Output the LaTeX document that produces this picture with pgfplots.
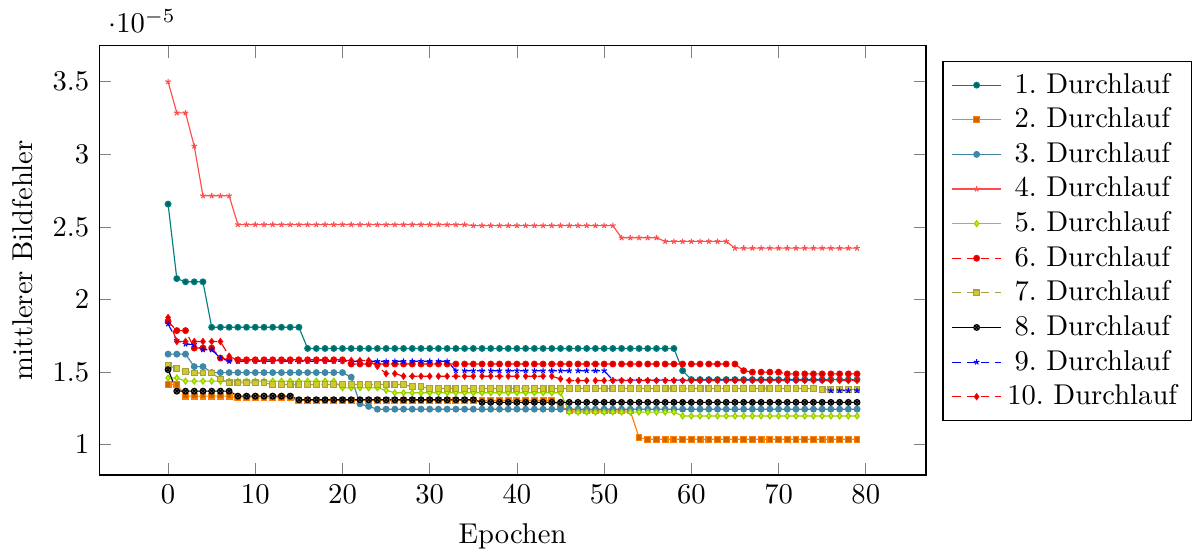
\documentclass[border=0pt]{standalone}
\usepackage{pgfplots}
\usepackage{pgfplotstable}
\pgfplotsset{compat=1.18}
\pgfplotstableread{
e s1 s2 s3 s4 s5 s6 s7 s8 s9 s10
0 2.657 1.415 1.624 3.50 1.46 1.85 1.545 1.517 1.832 1.876
1 2.144 1.415 1.624 3.285 1.46 1.786 1.524 1.369 1.718 1.711
2 2.122 1.335 1.624 3.285 1.438 1.786 1.503 1.369 1.693 1.711
3 2.122 1.335 1.538 3.056 1.438 1.666 1.494 1.369 1.69 1.711
4 2.122 1.335 1.538 2.714 1.438 1.666 1.494 1.369 1.654 1.711
5 1.809 1.335 1.497 2.714 1.438 1.666 1.494 1.369 1.654 1.711
6 1.809 1.335 1.497 2.714 1.438 1.597 1.453 1.369 1.597 1.711
7 1.809 1.335 1.497 2.714 1.438 1.585 1.426 1.369 1.575 1.61
8 1.809 1.323 1.497 2.516 1.438 1.585 1.426 1.335 1.575 1.58
9 1.809 1.323 1.497 2.516 1.438 1.585 1.426 1.335 1.575 1.58
10 1.809 1.323 1.497 2.516 1.438 1.585 1.426 1.335 1.575 1.58
11 1.809 1.323 1.497 2.516 1.438 1.585 1.426 1.335 1.575 1.58
12 1.809 1.323 1.497 2.516 1.438 1.585 1.415 1.335 1.575 1.58
13 1.809 1.323 1.497 2.516 1.438 1.585 1.415 1.335 1.575 1.58
14 1.809 1.323 1.497 2.516 1.438 1.585 1.415 1.335 1.575 1.58
15 1.809 1.305 1.497 2.516 1.438 1.585 1.415 1.31 1.575 1.58
16 1.663 1.305 1.497 2.516 1.438 1.585 1.415 1.31 1.575 1.58
17 1.663 1.305 1.497 2.516 1.438 1.585 1.415 1.31 1.575 1.58
18 1.663 1.305 1.497 2.516 1.438 1.585 1.415 1.31 1.575 1.58
19 1.663 1.305 1.497 2.516 1.438 1.585 1.415 1.31 1.575 1.58
20 1.663 1.305 1.497 2.516 1.392 1.585 1.415 1.31 1.575 1.58
21 1.663 1.305 1.465 2.516 1.392 1.556 1.415 1.31 1.575 1.58
22 1.663 1.305 1.282 2.516 1.392 1.556 1.415 1.31 1.575 1.58
23 1.663 1.305 1.264 2.516 1.392 1.556 1.415 1.31 1.575 1.58
24 1.663 1.305 1.245 2.516 1.392 1.556 1.415 1.31 1.575 1.54
25 1.663 1.305 1.245 2.516 1.375 1.556 1.415 1.31 1.575 1.49
26 1.663 1.305 1.245 2.516 1.358 1.556 1.415 1.31 1.575 1.49
27 1.663 1.305 1.245 2.516 1.358 1.556 1.415 1.31 1.575 1.472
28 1.663 1.305 1.245 2.516 1.358 1.556 1.40 1.31 1.575 1.472
29 1.663 1.305 1.245 2.516 1.358 1.556 1.40 1.31 1.575 1.472
30 1.663 1.305 1.245 2.516 1.358 1.556 1.387 1.31 1.575 1.472
31 1.663 1.305 1.245 2.516 1.358 1.556 1.387 1.31 1.575 1.472
32 1.663 1.305 1.245 2.516 1.358 1.556 1.387 1.31 1.575 1.472
33 1.663 1.305 1.245 2.516 1.358 1.556 1.387 1.31 1.51 1.472
34 1.663 1.305 1.245 2.516 1.358 1.556 1.387 1.31 1.51 1.472
35 1.663 1.305 1.245 2.509 1.358 1.556 1.387 1.31 1.51 1.472
36 1.663 1.305 1.245 2.509 1.358 1.556 1.387 1.292 1.51 1.472
37 1.663 1.305 1.245 2.509 1.358 1.556 1.387 1.292 1.51 1.472
38 1.663 1.305 1.245 2.509 1.358 1.556 1.387 1.292 1.51 1.472
39 1.663 1.305 1.245 2.509 1.358 1.556 1.387 1.292 1.51 1.472
40 1.663 1.305 1.245 2.509 1.358 1.556 1.387 1.292 1.51 1.472
41 1.663 1.305 1.245 2.509 1.358 1.556 1.387 1.292 1.51 1.472
42 1.663 1.305 1.245 2.509 1.358 1.556 1.387 1.292 1.51 1.472
43 1.663 1.305 1.245 2.509 1.358 1.556 1.387 1.292 1.51 1.472
44 1.663 1.305 1.245 2.509 1.358 1.556 1.387 1.292 1.51 1.472
45 1.663 1.267 1.245 2.509 1.358 1.556 1.387 1.292 1.51 1.453
46 1.663 1.232 1.245 2.509 1.225 1.556 1.387 1.292 1.51 1.442
47 1.663 1.232 1.245 2.509 1.225 1.556 1.387 1.292 1.51 1.442
48 1.663 1.232 1.245 2.509 1.225 1.556 1.387 1.292 1.51 1.442
49 1.663 1.232 1.245 2.509 1.225 1.556 1.387 1.292 1.51 1.442
50 1.663 1.232 1.245 2.509 1.225 1.556 1.387 1.292 1.51 1.442
51 1.663 1.232 1.245 2.509 1.225 1.556 1.387 1.292 1.445 1.442
52 1.663 1.232 1.245 2.425 1.225 1.556 1.387 1.292 1.445 1.442
53 1.663 1.232 1.245 2.425 1.225 1.556 1.387 1.292 1.445 1.442
54 1.663 1.05 1.245 2.425 1.225 1.556 1.387 1.292 1.445 1.442
55 1.663 1.038 1.245 2.425 1.225 1.556 1.387 1.292 1.445 1.442
56 1.663 1.038 1.245 2.425 1.225 1.556 1.387 1.292 1.445 1.442
57 1.663 1.038 1.245 2.40 1.225 1.556 1.387 1.292 1.445 1.442
58 1.663 1.038 1.245 2.40 1.225 1.556 1.387 1.292 1.445 1.442
59 1.51 1.038 1.245 2.40 1.198 1.556 1.387 1.292 1.445 1.442
60 1.449 1.038 1.245 2.40 1.198 1.556 1.387 1.292 1.445 1.442
61 1.449 1.038 1.245 2.40 1.198 1.556 1.387 1.292 1.445 1.442
62 1.449 1.038 1.245 2.40 1.198 1.556 1.387 1.292 1.445 1.442
63 1.449 1.038 1.245 2.40 1.198 1.556 1.387 1.292 1.445 1.442
64 1.449 1.038 1.245 2.40 1.198 1.556 1.387 1.292 1.445 1.442
65 1.449 1.038 1.245 2.354 1.198 1.556 1.387 1.292 1.445 1.442
66 1.449 1.038 1.245 2.354 1.198 1.51 1.387 1.292 1.445 1.442
67 1.449 1.038 1.245 2.354 1.198 1.50 1.387 1.292 1.445 1.442
68 1.449 1.038 1.245 2.354 1.198 1.50 1.387 1.292 1.445 1.442
69 1.449 1.038 1.245 2.354 1.198 1.50 1.387 1.292 1.445 1.442
70 1.449 1.038 1.245 2.354 1.198 1.50 1.387 1.292 1.445 1.442
71 1.449 1.038 1.245 2.354 1.198 1.488 1.387 1.292 1.445 1.442
72 1.449 1.038 1.245 2.354 1.198 1.488 1.387 1.292 1.445 1.442
73 1.449 1.038 1.245 2.354 1.198 1.488 1.387 1.292 1.445 1.442
74 1.449 1.038 1.245 2.354 1.198 1.488 1.387 1.292 1.445 1.442
75 1.449 1.038 1.245 2.354 1.198 1.488 1.38 1.292 1.445 1.442
76 1.449 1.038 1.245 2.354 1.198 1.488 1.38 1.292 1.373 1.442
77 1.449 1.038 1.245 2.354 1.198 1.488 1.38 1.292 1.373 1.442
78 1.449 1.038 1.245 2.354 1.198 1.488 1.38 1.292 1.373 1.442
79 1.449 1.038 1.245 2.354 1.198 1.488 1.38 1.292 1.373 1.442
}\data
\begin{document}
\begin{tikzpicture}
\begin{axis}[
  scale only axis,
  width=289pt, height=150pt,
  enlargelimits=0.1,
  cycle list name=exotic,
  every axis plot/.append style={mark size=1pt},
  xlabel={Epochen},
  ylabel={mittlerer Bildfehler},
  legend style={at={(1.02,0.965)}, anchor=north west, row sep=-0.45pt},
  legend cell align=center,
]
\foreach \s in {1,...,10} {
  \addplot table[x=e, y expr=\thisrow{s\s}*1e-5] {\data};
}
\legend{1.\ Durchlauf,2.\ Durchlauf,3.\ Durchlauf,4.\ Durchlauf,5.\ Durchlauf,6.\ Durchlauf,7.\ Durchlauf,8.\ Durchlauf,9.\ Durchlauf,10.\ Durchlauf}
\end{axis}
\path ([yshift=3.2pt]current bounding box.north);
\path ([xshift=-1pt]current bounding box.west);
\end{tikzpicture}
\end{document}
